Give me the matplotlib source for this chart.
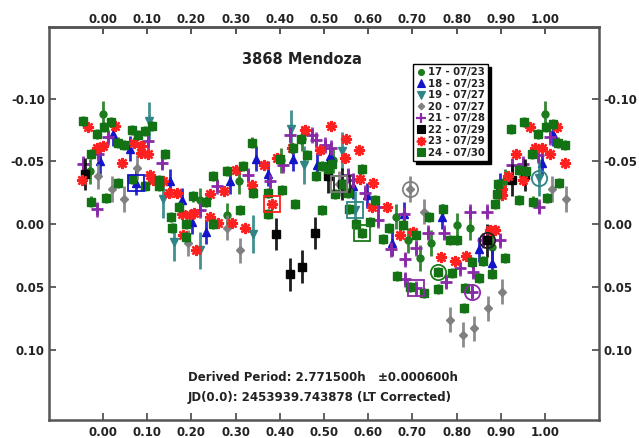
import matplotlib.pyplot as plt
from matplotlib.lines import Line2D
from matplotlib.ticker import FormatStrFormatter

plt.rcParams['font.family'] = ['DejaVu Sans']
plt.rcParams['font.weight'] = 'bold'

# phase / reduced magnitude for each session
ph17 = [0.001, 1.000, -0.029, 0.219, 0.280, 0.308, 0.403, 0.450, 0.521, 0.662, 0.691,
        0.717, 0.742, 0.800, 0.830, 0.880, 0.910]
mag17 = [-0.088, -0.088, -0.042, -0.019, -0.007, -0.034, -0.051, -0.068, -0.051, -0.006, 0.013,
         0.027, 0.015, 0.001, 0.003, 0.018, -0.034]
err17 = 0.010

ph18 = [0.022, -0.007, 0.061, 0.075, 0.152, 0.178, 0.201, 0.233, 0.287, 0.346, 0.373, 0.430,
        0.484, 0.514, 0.566, 0.597, 0.653, 0.682, 0.766, 0.850, 0.880, 0.898, 0.992, 1.019]
mag18 = [-0.072, -0.050, -0.060, -0.033, -0.034, -0.019, -0.002, 0.006, -0.034, -0.052, -0.040, -0.052,
         -0.047, -0.054, -0.030, -0.023, 0.015, -0.008, -0.006, 0.020, 0.031, -0.031, -0.049, -0.072]
err18 = 0.010

ph19 = [0.105, 0.136, 0.161, 0.219, 0.339, 0.425, 0.455, 0.540, 0.570, 0.987]
mag19 = [-0.082, -0.020, 0.014, 0.021, 0.008, -0.076, -0.047, -0.058, -0.011, -0.037]
err19 = 0.015

ph20 = [-0.011, 0.020, 0.047, 0.078, 0.193, 0.280, 0.310, 0.534, 0.695, 0.726, 0.784,
        0.814, 0.840, 0.872, 0.902, 1.016, 1.047]
mag20 = [-0.038, -0.028, -0.020, -0.045, 0.015, 0.003, 0.021, -0.032, -0.028, -0.010, 0.076,
         0.088, 0.083, 0.067, 0.054, -0.028, -0.020]
err20 = 0.010

ph21 = [0.012, -0.011, -0.045, -0.014, 0.102, 0.133, 0.219, 0.257, 0.329, 0.378, 0.408, 0.423,
        0.472, 0.483, 0.502, 0.516, 0.555, 0.566, 0.593, 0.623, 0.623, 0.651, 0.683, 0.683,
        0.680, 0.708, 0.709, 0.736, 0.772, 0.776, 0.808, 0.830, 0.834, 0.838, 0.859, 0.868,
        0.898, 0.925, 0.951, 0.985, 0.987, 1.011]
mag21 = [-0.069, -0.056, -0.048, -0.012, -0.066, -0.049, -0.011, -0.030, -0.039, -0.034, -0.047, -0.071,
         -0.071, -0.067, -0.063, -0.061, -0.039, -0.035, -0.025, -0.014, -0.003, 0.020, 0.028, 0.044,
         -0.008, 0.019, 0.051, 0.007, 0.007, 0.046, 0.035, -0.010, 0.054, 0.038, 0.013, -0.010,
         0.013, -0.047, -0.048, -0.055, -0.014, -0.069]
err21 = 0.006

ph22 = [-0.041, 0.391, 0.423, 0.451, 0.480, 0.510, 0.541, 0.868, 0.925, 0.955]
mag22 = [-0.040, 0.008, 0.040, 0.034, 0.007, -0.038, -0.032, 0.013, -0.035, -0.039]
err22 = 0.013

ph23 = [-0.048, -0.033, -0.014, 0.000, 0.027, 0.044, 0.070, 0.085, 0.087, 0.102, 0.106, 0.114,
        0.136, 0.150, 0.167, 0.178, 0.181, 0.197, 0.205, 0.210, 0.242, 0.242, 0.261, 0.274,
        0.291, 0.302, 0.321, 0.337, 0.365, 0.382, 0.393, 0.427, 0.457, 0.491, 0.516, 0.549,
        0.548, 0.580, 0.581, 0.608, 0.611, 0.642, 0.672, 0.702, 0.764, 0.796, 0.822, 0.876,
        0.887, 0.902, 0.902, 0.917, 0.934, 0.949, 0.966, 0.977, 0.992, 1.011, 1.028, 1.045]
mag23 = [-0.035, -0.077, -0.061, -0.062, -0.078, -0.049, -0.065, -0.062, -0.057, -0.056, -0.039, -0.035,
         -0.034, -0.025, -0.025, -0.008, 0.009, -0.007, -0.009, 0.021, -0.006, -0.024, -0.001, -0.026,
         -0.001, -0.043, 0.003, -0.031, -0.047, -0.016, -0.053, -0.061, -0.075, -0.059, -0.078, -0.068,
         -0.053, -0.059, -0.036, -0.014, -0.033, -0.014, 0.009, 0.006, 0.026, 0.029, 0.025, 0.005,
         0.005, -0.023, -0.028, -0.038, -0.056, -0.035, -0.077, -0.061, -0.061, -0.056, -0.077, -0.049]
err23 = 0.003

ph24 = [-0.045, -0.014, 0.002, 0.018, 0.035, 0.047, 0.065, 0.080, 0.095, 0.110, 0.140, -0.027,
        0.035, -0.026, 0.007, 0.066, 0.096, 0.127, 0.127, 0.155, 0.157, 0.173, 0.187, 0.187,
        0.203, 0.233, 0.248, 0.250, 0.280, 0.311, 0.316, 0.337, 0.340, 0.373, 0.373, 0.400,
        0.404, 0.430, 0.434, 0.448, 0.461, 0.481, 0.496, 0.496, 0.510, 0.517, 0.525, 0.542,
        0.555, 0.557, 0.572, 0.585, 0.587, 0.604, 0.615, 0.633, 0.648, 0.664, 0.678, 0.695,
        0.708, 0.726, 0.738, 0.757, 0.757, 0.770, 0.784, 0.789, 0.800, 0.817, 0.819, 0.834,
        0.850, 0.860, 0.880, 0.887, 0.891, 0.894, 0.910, 0.923, 0.940, 0.940, 0.953, 0.958,
        0.970, 0.972, 0.985, 1.002, 1.004, 1.017, 1.030, 1.032, 1.045]
mag24 = [-0.082, -0.072, -0.077, -0.081, -0.065, -0.063, -0.075, -0.071, -0.074, -0.078, -0.056, -0.056,
         -0.033, -0.018, -0.021, -0.036, -0.030, -0.035, -0.030, -0.006, 0.003, -0.014, 0.000, 0.010,
         -0.022, -0.018, -0.038, 0.000, -0.042, -0.011, -0.046, -0.065, -0.025, -0.025, -0.008, -0.052,
         -0.027, -0.061, -0.016, -0.068, -0.055, -0.038, -0.046, -0.011, -0.044, -0.048, -0.024, -0.032,
         -0.025, -0.012, 0.000, -0.044, 0.007, -0.002, -0.019, 0.012, 0.003, 0.041, 0.001, 0.050,
         0.009, 0.055, -0.006, 0.038, 0.052, -0.012, 0.013, 0.039, 0.013, 0.067, 0.051, 0.030,
         0.043, 0.029, 0.040, -0.016, -0.024, -0.032, 0.027, -0.076, -0.019, -0.043, -0.081, -0.042,
         -0.056, -0.018, -0.072, -0.077, -0.021, -0.080, -0.065, -0.033, -0.063]
err24 = 0.004

# first / last point of some sessions, drawn as open symbols
hl_phase = [0.075, 0.382, 0.570, 0.541, 0.587, 0.534, 0.709, 0.757, 0.834, 0.868, 0.695, 0.987]
hl_mag = [-0.033, -0.016, -0.011, -0.032, 0.007, -0.032, 0.051, 0.038, 0.054, 0.013, -0.028, -0.037]
hl_color = ['#1414C8', '#FF2020', '#2F8585', '#202020', '#1A7A1A', '#808080', '#8A2AA8',
            '#1A7A1A', '#8A2AA8', '#202020', '#808080', '#2F8585']
hl_marker = ['s', 's', 's', 's', 's', 's', 's', 'o', 'o', 'o', 'o', 'o']

sessions = [
    ('17 - 07/23', ph17, mag17, err17, 'o', '#1E7B1E', 5, 1.0),
    ('18 - 07/23', ph18, mag18, err18, '^', '#1414C8', 6, 1.0),
    ('19 - 07/27', ph19, mag19, err19, 'v', '#2F8585', 6, 1.0),
    ('20 - 07/27', ph20, mag20, err20, 'D', '#808080', 4, 1.0),
    ('21 - 07/28', ph21, mag21, err21, '+', '#8A2AA8', 9, 2.0),
    ('22 - 07/29', ph22, mag22, err22, 's', '#050505', 6, 1.0),
    ('23 - 07/29', ph23, mag23, err23, (8, 2, 0), '#FF2020', 8, 1.7),
    ('24 - 07/30', ph24, mag24, err24, 's', '#137213', 6, 1.0),
]

xticks = [i / 10 for i in range(11)]
yticks = [-0.10, -0.05, 0.00, 0.05, 0.10]

fig = plt.figure(figsize=(6.39, 4.38), dpi=100)
ax = fig.add_axes([0.0767, 0.0411, 0.8607, 0.8973])

handles = []
for name, ph, mag, err, mk, col, ms, mew in sessions:
    ax.errorbar(ph, mag, yerr=err, fmt='none', ecolor=col, elinewidth=2, capsize=0, alpha=0.9)
    ax.plot(ph, mag, linestyle='none', marker=mk, ms=ms, color=col, mec=col, mew=mew)
    handles.append(Line2D([], [], linestyle='none', marker=mk, ms=ms * 0.85, color=col,
                          mec=col, mew=mew * 0.8, label=name))

for x, y, c, m in zip(hl_phase, hl_mag, hl_color, hl_marker):
    ax.plot(x, y, marker=m, ms=11, mfc='none', mec=c, mew=1.3, linestyle='none')

ax.set_xlim(-0.122, 1.122)
ax.set_ylim(0.156, -0.157)
ax.set_xticks(xticks)
ax.set_yticks(yticks)
ax.xaxis.set_major_formatter(FormatStrFormatter('%.2f'))
ax.yaxis.set_major_formatter(FormatStrFormatter('%.2f'))
ax.tick_params(direction='in', length=5, width=1.3, color='#555555', labelsize=8.5,
               labelcolor='#222222', top=True, right=True, labelright=True, pad=4)
ax.tick_params(axis='y', pad=3)

# top phase scale, sitting a little closer to the frame
top = ax.secondary_xaxis('top')
top.set_xticks(xticks)
top.xaxis.set_major_formatter(FormatStrFormatter('%.2f'))
top.tick_params(direction='in', length=5, width=1.3, color='#555555', labelsize=8.5,
                labelcolor='#222222', pad=1)
top.spines['top'].set_color('#555555')
top.spines['top'].set_linewidth(1.8)

for lab in ax.get_xticklabels() + ax.get_yticklabels() + top.get_xticklabels():
    lab.set_fontweight('bold')
for sp in ax.spines.values():
    sp.set_color('#555555')
    sp.set_linewidth(1.8)

ax.text(0.450, -0.131, '3868 Mendoza', fontsize=10.5, fontweight='bold', ha='center', va='center',
        color='#222222')

leg = ax.legend(handles=handles, loc='upper left', bbox_to_anchor=(0.662, 0.905), fontsize=7.3,
                frameon=True, fancybox=False, shadow={'color': 'black', 'alpha': 1.0},
                handlelength=0.9, handletextpad=0.3, borderpad=0.3, labelspacing=0.15,
                borderaxespad=0)
leg.get_frame().set_edgecolor('black')
leg.get_frame().set_linewidth(1.0)
for t in leg.get_texts():
    t.set_color('#222222')

ax.text(0.2527, 0.1094, 'Derived Period: 2.771500h   \u00b10.000600h', transform=ax.transAxes,
        fontsize=8.5, fontweight='bold', va='center', ha='left', color='#222222')
ax.text(0.2527, 0.0585, 'JD(0.0): 2453939.743878 (LT Corrected)', transform=ax.transAxes,
        fontsize=8.5, fontweight='bold', va='center', ha='left', color='#222222')

fig.savefig('out.png', dpi=100)
